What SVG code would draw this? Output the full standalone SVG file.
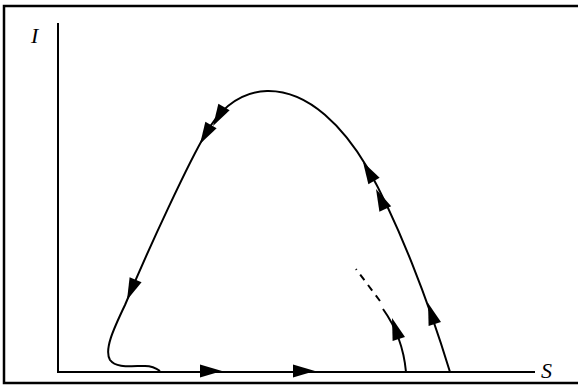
<svg xmlns="http://www.w3.org/2000/svg" width="578" height="385" viewBox="0 0 578 385">
<style>
.frame{fill:none;stroke:#000;stroke-width:2.5}
.axis{fill:none;stroke:#000;stroke-width:2}
.traj{fill:none;stroke:#000;stroke-width:2}
.dash{fill:none;stroke:#000;stroke-width:2;stroke-dasharray:7,6}
.lbl{font-family:"Liberation Serif",serif;font-style:italic;font-size:22px;fill:#000}
</style>
<defs>
<path id="ah" d="M0,0 L-22,-6.5 L-22,6.5 Z" fill="#000"/>
</defs>
<rect width="578" height="385" fill="#fff"/>
<g id="frame">
<path class="frame" d="M580,6 L4,6 L4,383 L580,383"/>
</g>
<g id="axes">
<path class="axis" d="M58,23 L58,372 L535,372"/>
<text class="lbl" x="31" y="43">I</text>
<text class="lbl" x="541" y="378">S</text>
</g>
<g id="connectors">
<path class="traj" d="M450,372 C428,300 398,222 367,167 C345,130 310,90 267,91 C240,92 220,108 205,135 C190,160 150,245 125,305 C113,330 104,350 110,360 C116,368 130,366 145,366 C152,366 156,368 160,371"/>
<path class="traj" d="M406,372 C404,350 398,330 383,309"/>
<path class="dash" d="M380,301 L356,269"/>
<use href="#ah" transform="translate(428,303) rotate(-108)"/>
<use href="#ah" transform="translate(376,189) rotate(-115)"/>
<use href="#ah" transform="translate(363,162) rotate(-120)"/>
<use href="#ah" transform="translate(213,126) rotate(120)"/>
<use href="#ah" transform="translate(200,144) rotate(120)"/>
<use href="#ah" transform="translate(127,300) rotate(113)"/>
<use href="#ah" transform="translate(392,318) rotate(-108)"/>
<use href="#ah" transform="translate(222,371)"/>
<use href="#ah" transform="translate(315,371)"/>
</g>
</svg>
